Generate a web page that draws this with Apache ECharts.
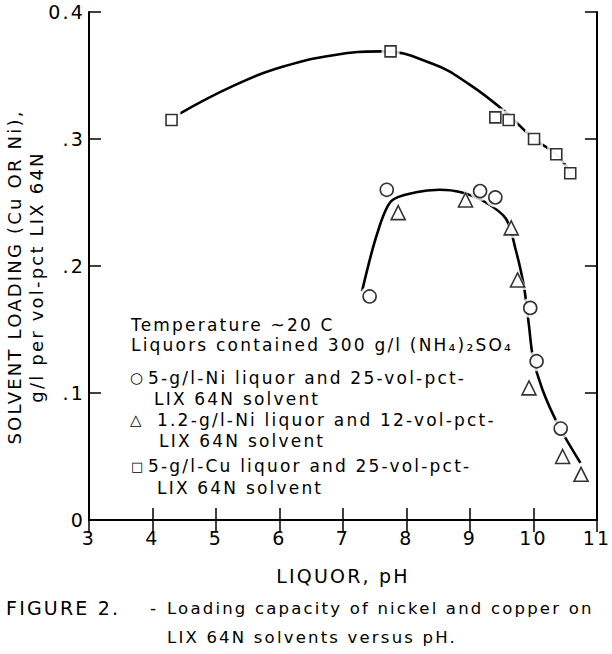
<!DOCTYPE html>
<html>
<head>
<meta charset="utf-8">
<script src="https://cdn.jsdelivr.net/npm/echarts@6/dist/echarts.min.js"></script>
<style>
  html, body { margin: 0; padding: 0; background: #fff; }
  #graph01 { width: 612px; height: 654px; }
  /* the original lettering is widely spaced */
  #graph01 text { letter-spacing: 2.2px; }
</style>
</head>
<body>
<div id="graph01"></div>
<script>
var niHighPH   = [7.42, 7.69, 9.16, 9.40, 9.95, 10.05, 10.43];
var niHighLoad = [0.176, 0.260, 0.259, 0.254, 0.167, 0.125, 0.072];

var niLowPH   = [7.87, 8.93, 9.65, 9.75, 9.93, 10.46, 10.75];
var niLowLoad = [0.242, 0.252, 0.230, 0.189, 0.104, 0.050, 0.036];

var cuPH   = [4.30, 7.75, 9.40, 9.61, 10.01, 10.36, 10.58];
var cuLoad = [0.315, 0.369, 0.317, 0.315, 0.300, 0.288, 0.273];

// hand drawn fit curves
var cuCurvePH   = [4.43, 5.28, 6.06, 6.85, 7.60, 8.42, 8.99, 9.54, 10.01, 10.36, 10.58];
var cuCurveLoad = [0.320, 0.342, 0.357, 0.366, 0.369, 0.359, 0.343, 0.322, 0.300, 0.288, 0.273];

var niCurvePH   = [7.30, 7.53, 7.76, 8.15, 8.52, 8.86, 9.25, 9.57, 9.72, 9.85, 9.93, 9.99, 10.14, 10.40, 10.74];
var niCurveLoad = [0.180, 0.224, 0.251, 0.258, 0.260, 0.258, 0.250, 0.237, 0.213, 0.184, 0.153, 0.129, 0.103, 0.074, 0.045];

var xTicks = [3, 4, 5, 6, 7, 8, 9, 10, 11];
var yTickLabels = { '0': '0', '0.1': '.1', '0.2': '.2', '0.3': '.3', '0.4': '0.4' };

function pairs(xs, ys) {
    return xs.map(function (x, i) { return [x, ys[i]]; });
}

var FONT = 'DejaVu Sans';

var myChart = echarts.init(document.getElementById('graph01'), null, { renderer: 'svg' });

var axisLine = { show: true, lineStyle: { color: '#000', width: 2 } };
var tickIn = { show: true, inside: true, length: 12, lineStyle: { color: '#000', width: 1.5 } };

function halo(data, symbol, size) {
    return {
        type: 'scatter', data: data, symbol: symbol, symbolSize: size, z: 3,
        itemStyle: { color: '#fff', borderWidth: 0 }, silent: true
    };
}
function marks(name, data, symbol, size) {
    return {
        name: name, type: 'scatter', data: data, symbol: symbol, symbolSize: size, z: 4,
        itemStyle: { color: '#fff', borderColor: '#000', borderWidth: 1.6 }
    };
}
function note(x, y, text, size) {
    return {
        type: 'text', x: x, y: y,
        style: { text: text, font: (size || 17) + 'px "DejaVu Sans"', fill: '#000', verticalAlign: 'middle' }
    };
}

var option = {
    backgroundColor: '#fff',
    animation: false,
    grid: { left: 89, right: 12, top: 12, bottom: 134 },
    xAxis: [
        {
            type: 'value', min: 3, max: 11, interval: 1,
            name: 'LIQUOR, pH', nameLocation: 'middle', nameGap: 46,
            nameTextStyle: { fontFamily: FONT, fontSize: 19, color: '#000' },
            axisLine: axisLine, axisTick: tickIn, splitLine: { show: false },
            axisLabel: { fontFamily: FONT, fontSize: 19, color: '#000', margin: 8 }
        },
        {
            type: 'value', position: 'top', min: 3, max: 11, interval: 1,
            axisLine: axisLine, axisTick: tickIn, splitLine: { show: false },
            axisLabel: { show: false }
        }
    ],
    yAxis: [
        {
            type: 'value', min: 0, max: 0.4, interval: 0.1,
            axisLine: axisLine, axisTick: tickIn, splitLine: { show: false },
            axisLabel: {
                fontFamily: FONT, fontSize: 19, color: '#000', margin: 4,
                formatter: function (v) { return yTickLabels[String(+v.toFixed(1))]; }
            }
        },
        {
            type: 'value', position: 'right', min: 0, max: 0.4, interval: 0.1,
            axisLine: axisLine, axisTick: tickIn, splitLine: { show: false },
            axisLabel: { show: false }
        }
    ],
    series: [
        {
            type: 'line', data: pairs(cuCurvePH, cuCurveLoad), smooth: 0.45,
            showSymbol: false, z: 2, lineStyle: { color: '#000', width: 2.6 }
        },
        {
            type: 'line', data: pairs(niCurvePH, niCurveLoad), smooth: 0.3,
            showSymbol: false, z: 2, lineStyle: { color: '#000', width: 2.6 }
        },
        halo(pairs(cuPH, cuLoad), 'rect', 18),
        halo(pairs(niHighPH, niHighLoad), 'circle', 20),
        halo(pairs(niLowPH, niLowLoad), 'triangle', 20),
        marks('5-g/l-Cu', pairs(cuPH, cuLoad), 'rect', 11),
        marks('5-g/l-Ni', pairs(niHighPH, niHighLoad), 'circle', 13),
        marks('1.2-g/l-Ni', pairs(niLowPH, niLowLoad), 'triangle', 14)
    ],
    graphic: [
        // y axis title, two rotated lines
        {
            type: 'text', x: 14, y: 277, rotation: Math.PI / 2,
            style: { text: 'SOLVENT LOADING (Cu OR Ni),', font: '18px "DejaVu Sans"', fill: '#000', align: 'center', verticalAlign: 'middle' }
        },
        {
            type: 'text', x: 36, y: 277, rotation: Math.PI / 2,
            style: { text: 'g/l per vol-pct LIX 64N', font: '18px "DejaVu Sans"', fill: '#000', align: 'center', verticalAlign: 'middle' }
        },
        // notes inside the plot
        note(131, 325, 'Temperature ~20 C'),
        note(131, 345, 'Liquors contained 300 g/l (NH\u2084)\u2082SO\u2084'),
        note(130, 378, '○', 15),
        note(148, 378, '5-g/l-Ni liquor and 25-vol-pct-'),
        note(154, 399, 'LIX 64N solvent'),
        note(130, 420, '△', 15),
        note(157, 420, '1.2-g/l-Ni liquor and 12-vol-pct-'),
        note(159, 441, 'LIX 64N solvent'),
        note(131, 466, '□', 13),
        note(148, 466, '5-g/l-Cu liquor and 25-vol-pct-'),
        note(157, 488, 'LIX 64N solvent'),
        // caption
        note(6, 608, 'FIGURE 2.', 19),
        note(150, 608, '-', 17),
        note(167, 608, 'Loading capacity of nickel and copper on', 16.5),
        note(167, 637, 'LIX 64N solvents versus pH.', 16.5)
    ]
};
myChart.setOption(option);
</script>
</body>
</html>
